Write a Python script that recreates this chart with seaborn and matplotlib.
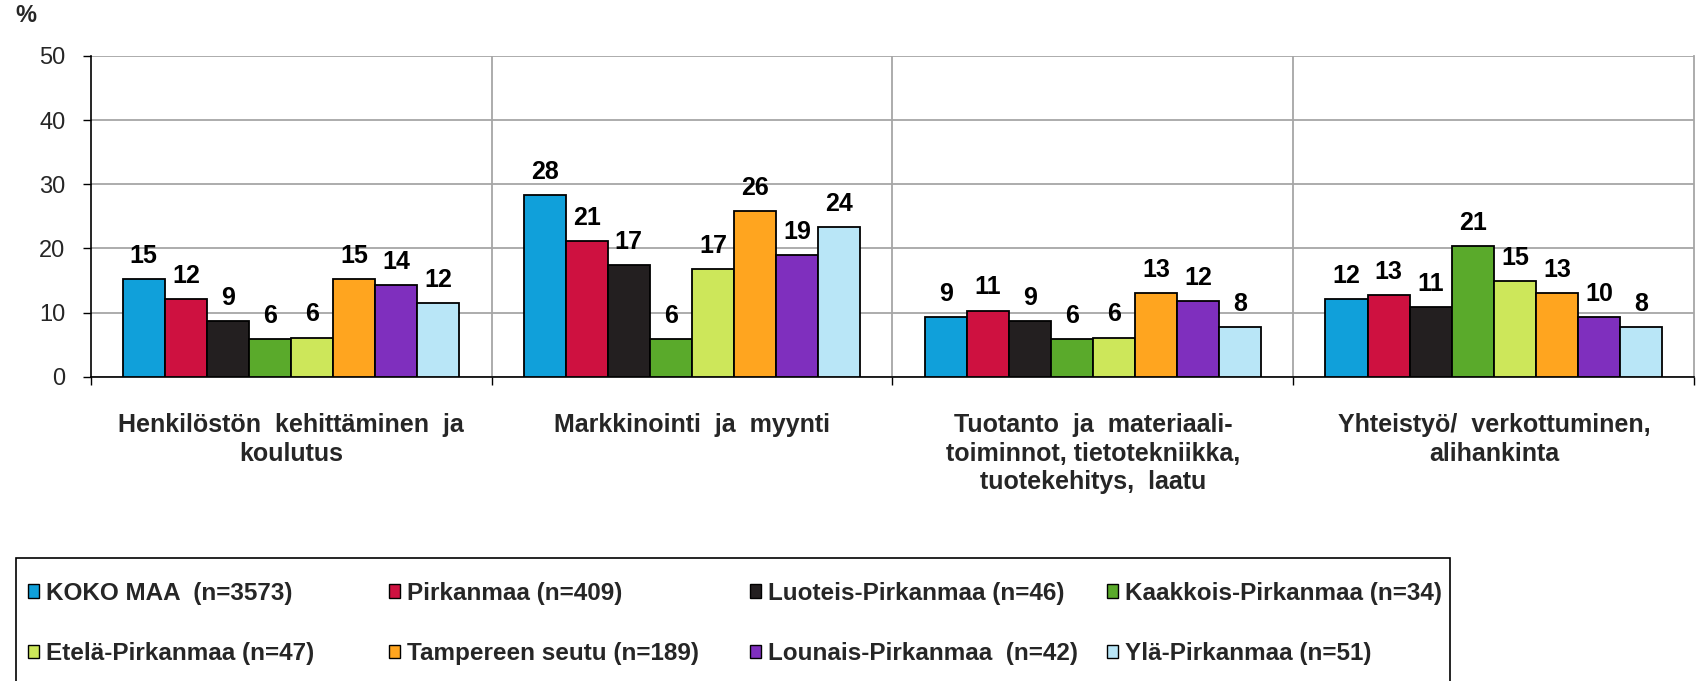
import pandas as pd
import matplotlib
matplotlib.use("Agg")
import matplotlib.pyplot as plt
import seaborn as sns
from matplotlib.patches import Patch, Rectangle

# --- Data ---
categories = [
    "Henkilöstön  kehittäminen  ja\nkoulutus",
    "Markkinointi  ja  myynti",
    "Tuotanto  ja  materiaali-\ntoiminnot, tietotekniikka,\ntuotekehitys,  laatu",
    "Yhteistyö/  verkottuminen,\nalihankinta",
]

regions = [
    "KOKO MAA  (n=3573)",
    "Pirkanmaa (n=409)",
    "Luoteis-Pirkanmaa (n=46)",
    "Kaakkois-Pirkanmaa (n=34)",
    "Etelä-Pirkanmaa (n=47)",
    "Tampereen seutu (n=189)",
    "Lounais-Pirkanmaa  (n=42)",
    "Ylä-Pirkanmaa (n=51)",
]

koko_maa = [15.2, 28.3, 9.3, 12.1]
pirkanmaa = [12.1, 21.2, 10.3, 12.7]
luoteis = [8.7, 17.4, 8.7, 10.9]
kaakkois = [5.8, 5.8, 5.8, 20.4]
etela = [6.1, 16.8, 6.1, 14.9]
tampere = [15.2, 25.8, 13.0, 13.0]
lounais = [14.3, 18.9, 11.8, 9.3]
yla = [11.5, 23.3, 7.8, 7.7]

# printed labels (rounded values as shown on the chart)
koko_maa_lbl = [15, 28, 9, 12]
pirkanmaa_lbl = [12, 21, 11, 13]
luoteis_lbl = [9, 17, 9, 11]
kaakkois_lbl = [6, 6, 6, 21]
etela_lbl = [6, 17, 6, 15]
tampere_lbl = [15, 26, 13, 13]
lounais_lbl = [14, 19, 12, 10]
yla_lbl = [12, 24, 8, 8]

y_ticks = [0, 10, 20, 30, 40, 50]

series = [koko_maa, pirkanmaa, luoteis, kaakkois, etela, tampere, lounais, yla]
series_lbl = [koko_maa_lbl, pirkanmaa_lbl, luoteis_lbl, kaakkois_lbl,
              etela_lbl, tampere_lbl, lounais_lbl, yla_lbl]

colors = ["#10A0DA", "#CE1140", "#231F20", "#5AAA2B",
          "#CDE75A", "#FFA51F", "#7F2FBE", "#B9E6F7"]

# long format for seaborn
rows = []
for reg, vals in zip(regions, series):
    for cat, v in zip(categories, vals):
        rows.append({"Kategoria": cat, "Alue": reg, "Osuus": v})
df = pd.DataFrame(rows)

sns.set_style("white")
plt.rcParams["font.family"] = ["Liberation Sans", "DejaVu Sans"]

W, H = 1697, 681
fig = plt.figure(figsize=(W / 100, H / 100), dpi=100)
ax = fig.add_axes([0.0534, 0.4469, 0.9450, 0.4709])

grid_c = "#A6A6A6"

sns.barplot(data=df, x="Kategoria", y="Osuus", hue="Alue",
            order=categories, hue_order=regions,
            palette=dict(zip(regions, colors)), saturation=1,
            width=0.84, errorbar=None, edgecolor="black", linewidth=1.3,
            legend=False, ax=ax, zorder=3)

# value labels above each bar
for cont, lbls in zip(ax.containers, series_lbl):
    ax.bar_label(cont, labels=[str(v) for v in lbls], padding=8,
                 fontsize=18, fontweight="bold", color="black")

# Axes formatting
ax.set_xlim(-0.5, len(categories) - 0.5)
ax.set_ylim(0, 50)
ax.set_yticks(y_ticks)
ax.tick_params(axis="y", labelsize=17, length=6, width=1, color="black",
               direction="out", pad=12, left=True)
ax.set_xticks(range(len(categories)))
ax.set_xticklabels(categories, fontsize=18, fontweight="bold", linespacing=1.25)
ax.tick_params(axis="x", length=0, pad=26)
ax.set_xticks([i - 0.5 for i in range(len(categories) + 1)], minor=True)
ax.tick_params(axis="x", which="minor", length=6, width=1, color="black",
               direction="out", bottom=True)
ax.set_xlabel("")
ax.set_ylabel("")

ax.grid(axis="y", color=grid_c, linewidth=1.3, zorder=0)
for b in range(1, len(categories)):
    ax.axvline(b - 0.5, color=grid_c, linewidth=1.3, zorder=0)

ax.spines["top"].set_visible(False)
ax.spines["right"].set_color(grid_c)
ax.spines["right"].set_linewidth(1.3)
ax.spines["left"].set_color("black")
ax.spines["left"].set_linewidth(1.2)
ax.spines["bottom"].set_color("black")
ax.spines["bottom"].set_linewidth(1.2)
ax.set_axisbelow(True)

fig.text(25.5 / W, 1 - 16 / H, "%", ha="center", va="center",
         fontsize=17, fontweight="bold")

# Legend: outer box (bottom edge runs off the figure) + one frameless
# legend per column so the columns sit at even spacing as in the original
box = Rectangle((16 / W, -0.1), (1450 - 16) / W, (H - 558) / H + 0.1,
                transform=fig.transFigure, fill=False, edgecolor="black",
                linewidth=1.2)
fig.patches.append(box)

handles = [Patch(facecolor=c, edgecolor="black", linewidth=1.0, label=r)
           for c, r in zip(colors, regions)]
ncol = 4
col_x = [28, 389, 750, 1107]
for c in range(ncol):
    col_handles = [handles[c], handles[c + ncol]]
    leg = fig.legend(handles=col_handles, ncol=1, loc="center left",
                     bbox_to_anchor=(col_x[c] / W, 1 - 623.5 / H),
                     frameon=False,
                     prop={"family": "Liberation Sans", "weight": "bold", "size": 17.5},
                     handlelength=0.45, handleheight=0.45, handletextpad=0.3,
                     labelspacing=1.55, borderpad=0, borderaxespad=0)

plt.savefig("out.png", dpi=100)
plt.close()
